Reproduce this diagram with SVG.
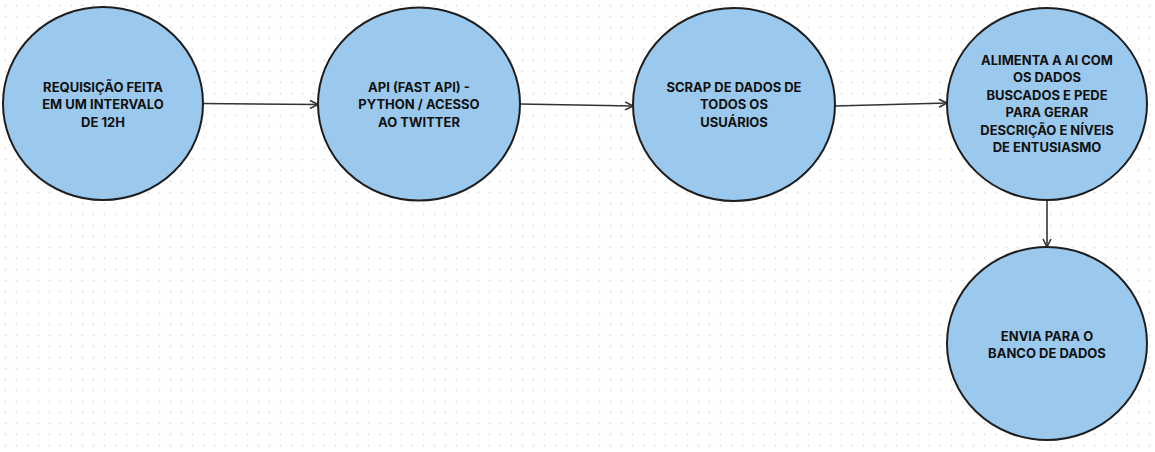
<svg xmlns="http://www.w3.org/2000/svg" width="1155" height="452" viewBox="0 0 1155 452">
<defs>
<pattern id="dots" x="0" y="0" width="11" height="11" patternUnits="userSpaceOnUse">
<circle cx="5.5" cy="5.5" r="0.9" fill="#dcdcdc"/>
</pattern>
<marker id="arr" viewBox="0 0 10 10" refX="9" refY="5" markerWidth="10" markerHeight="10" markerUnits="userSpaceOnUse" orient="auto">
<path d="M1,1 L9,5 L1,9" fill="none" stroke="#333" stroke-width="1.6"/>
</marker>
<style>
.node{fill:#9bc9ee;stroke:#1e1e1e;stroke-width:2}
.lbl{font-family:Inter,"Liberation Sans",sans-serif;font-weight:700;font-size:13px;fill:#111;text-anchor:middle}
.edge{fill:none;stroke:#333;stroke-width:1.6;marker-end:url(#arr)}
</style>
</defs>
<rect width="1155" height="452" fill="#ffffff"/>
<rect width="1155" height="452" fill="url(#dots)"/>
<g id="connectors">
<path class="edge" d="M203,103.5 L318,104.5"/>
<path class="edge" d="M520,104 L633,106"/>
<path class="edge" d="M835,106 L947,103"/>
<path class="edge" d="M1047,200 L1047,247"/>
</g>
<g id="n1">
<ellipse class="node" cx="103" cy="103.5" rx="100" ry="96.5"/>
<text class="lbl"><tspan x="103" y="91.5">REQUISIÇÃO FEITA</tspan><tspan x="103" y="109">EM UM INTERVALO</tspan><tspan x="103" y="126.5">DE 12H</tspan></text>
</g>
<g id="n2">
<ellipse class="node" cx="419" cy="104" rx="101" ry="96.5"/>
<text class="lbl"><tspan x="419" y="91.5">API (FAST API) -</tspan><tspan x="419" y="109">PYTHON / ACESSO</tspan><tspan x="419" y="126.5">AO TWITTER</tspan></text>
</g>
<g id="n3">
<ellipse class="node" cx="734" cy="104.5" rx="101" ry="96.5"/>
<text class="lbl"><tspan x="734" y="91.5">SCRAP DE DADOS DE</tspan><tspan x="734" y="109">TODOS OS</tspan><tspan x="734" y="126.5">USUÁRIOS</tspan></text>
</g>
<g id="n4">
<ellipse class="node" cx="1047" cy="104" rx="100" ry="96"/>
<text class="lbl"><tspan x="1047" y="64.5">ALIMENTA A AI COM</tspan><tspan x="1047" y="82">OS DADOS</tspan><tspan x="1047" y="99.5">BUSCADOS E PEDE</tspan><tspan x="1047" y="117">PARA GERAR</tspan><tspan x="1047" y="134.5">DESCRIÇÃO E NÍVEIS</tspan><tspan x="1047" y="152">DE ENTUSIASMO</tspan></text>
</g>
<g id="n5">
<ellipse class="node" cx="1047" cy="343.5" rx="100" ry="96.5"/>
<text class="lbl"><tspan x="1047" y="340.5">ENVIA PARA O</tspan><tspan x="1047" y="358">BANCO DE DADOS</tspan></text>
</g>
</svg>
